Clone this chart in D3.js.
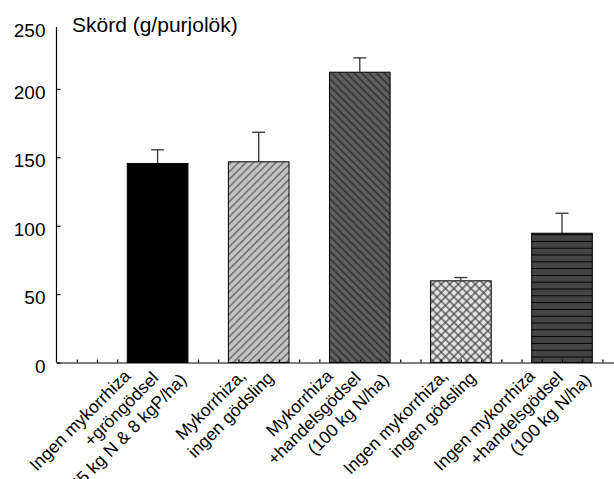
<!DOCTYPE html>
<html><head><meta charset="utf-8">
<script src="https://cdn.jsdelivr.net/npm/d3@7"></script>
<style>
html,body{margin:0;padding:0;background:#fff;}
svg{display:block;font-family:"Liberation Sans",Arial,sans-serif;}
</style></head>
<body>
<svg id="chart" width="614" height="479"></svg>
<script>
// ---- data ----
const categories = [
  ["Ingen mykorrhiza", "+gröngödsel", "(135 kg N & 8 kgP/ha)"],
  ["Mykorrhiza,", "ingen gödsling"],
  ["Mykorrhiza", "+handelsgödsel", "(100 kg N/ha)"],
  ["Ingen mykorrhiza,", "ingen gödsling"],
  ["Ingen mykorrhiza", "+handelsgödsel", "(100 kg N/ha)"]
];
const values = [145.5, 146.7, 212.2, 59.7, 94.5];
const errors = [10.0, 21.6, 10.5, 2.4, 14.6];
const yTicks = [0, 50, 100, 150, 200, 250];
const fills = ["#000000", "url(#p2)", "url(#p3)", "url(#p4)", "url(#p5)"];
const yTitle = "Skörd (g/purjolök)";

// ---- layout ----
const svg = d3.select("#chart");
const x = d3.scaleLinear().domain([0, 5.6]).range([56.5, 56.5 + 5.6 * 101.1]);
const y = d3.scaleLinear().domain([0, 250]).range([362.5, 20.5]);
const barW = 0.6;
const yAxisTop = y.invert(27);

// ---- patterns ----
const defs = svg.append("defs");
function linePattern(id, bg, w, rot, stroke, sw, cross) {
  const p = defs.append("pattern").attr("id", id).attr("patternUnits", "userSpaceOnUse")
    .attr("width", w).attr("height", w).attr("patternTransform", rot ? `rotate(${rot})` : null);
  p.append("rect").attr("width", w).attr("height", w).attr("fill", bg);
  if (rot) {
    p.append("line").attr("x1", w/2).attr("x2", w/2).attr("y1", 0).attr("y2", w)
      .attr("stroke", stroke).attr("stroke-width", sw);
  } else {
    p.append("line").attr("x1", 0).attr("x2", w).attr("y1", w/2).attr("y2", w/2)
      .attr("stroke", stroke).attr("stroke-width", sw);
  }
  if (cross) {
    p.append("line").attr("x1", 0).attr("x2", w).attr("y1", w/2).attr("y2", w/2)
      .attr("stroke", stroke).attr("stroke-width", sw);
  }
}
linePattern("p2", "#c4c4c4", 5.3, 45, "#333", 0.9, false);
linePattern("p3", "#5f5f5f", 5.3, -45, "#111", 0.9, false);
linePattern("p4", "#e4e4e4", 6, 45, "#333", 1.1, true);
linePattern("p5", "#444444", 6.8, 0, "#000", 1, false);

// ---- bars ----
const g = svg.append("g");
g.selectAll("rect.bar").data(values).join("rect").attr("class", "bar")
  .attr("x", (d, i) => x(i + 1 - barW / 2))
  .attr("width", (d, i) => x(i + 1 + barW / 2) - x(i + 1 - barW / 2))
  .attr("y", d => y(d))
  .attr("height", d => y(0) - y(d))
  .attr("fill", (d, i) => fills[i])
  .attr("stroke", "#000").attr("stroke-width", 1);

// ---- error bars ----
const eb = g.selectAll("g.err").data(values).join("g").attr("class", "err");
eb.append("line")
  .attr("x1", (d, i) => x(i + 1)).attr("x2", (d, i) => x(i + 1))
  .attr("y1", d => y(d)).attr("y2", (d, i) => y(d + errors[i]))
  .attr("stroke", "#333").attr("stroke-width", 1.3);
eb.append("line")
  .attr("x1", (d, i) => x(i + 1) - 6.5).attr("x2", (d, i) => x(i + 1) + 6.5)
  .attr("y1", (d, i) => y(d + errors[i])).attr("y2", (d, i) => y(d + errors[i]))
  .attr("stroke", "#333").attr("stroke-width", 1.3);

// ---- axes ----
const yAxis = d3.axisRight(y).tickValues(yTicks.filter(d => d <= yAxisTop))
  .tickSize(4).tickSizeOuter(0).tickFormat("");
const ya = svg.append("g").attr("transform", `translate(${x(0)},0)`).call(yAxis);
ya.select(".domain").attr("d", `M0,${y(0)}V${y(yAxisTop)}`);
ya.selectAll("line, path").attr("stroke", "#000").attr("stroke-width", 1.2);
svg.append("g").selectAll("text").data(yTicks).join("text")
  .attr("x", x(0) - 11).attr("y", d => Math.max(y(d), y(yAxisTop)) + 4)
  .attr("dy", "0.32em").attr("text-anchor", "end")
  .attr("font-size", 19).attr("fill", "#000").text(d => d);

const xTickVals = d3.range(1, 28).map(k => k / 5);
const xAxis = d3.axisBottom(x).tickValues(xTickVals).tickSize(-3).tickSizeOuter(0).tickFormat("");
const xa = svg.append("g").attr("transform", `translate(0,${y(0)})`).call(xAxis);
xa.selectAll("line, path").attr("stroke", "#000").attr("stroke-width", 1.2);

// ---- y title ----
svg.append("text").attr("x", 72).attr("y", 32).attr("font-size", 21).attr("fill", "#000").text(yTitle);

// ---- category labels ----
const lab = svg.append("g");
categories.forEach((lines, i) => {
  const n = lines.length;
  lines.forEach((t, j) => {
    const ax = x(i + 1) + 2 + (j - (n - 1) / 2) * 28;
    const ay = 377 + j * 2;
    lab.append("text").attr("text-anchor", "end")
      .attr("transform", `translate(${ax},${ay}) rotate(-45)`)
      .attr("font-size", 17.5).attr("fill", "#000").text(t);
  });
});
</script>
</body></html>
